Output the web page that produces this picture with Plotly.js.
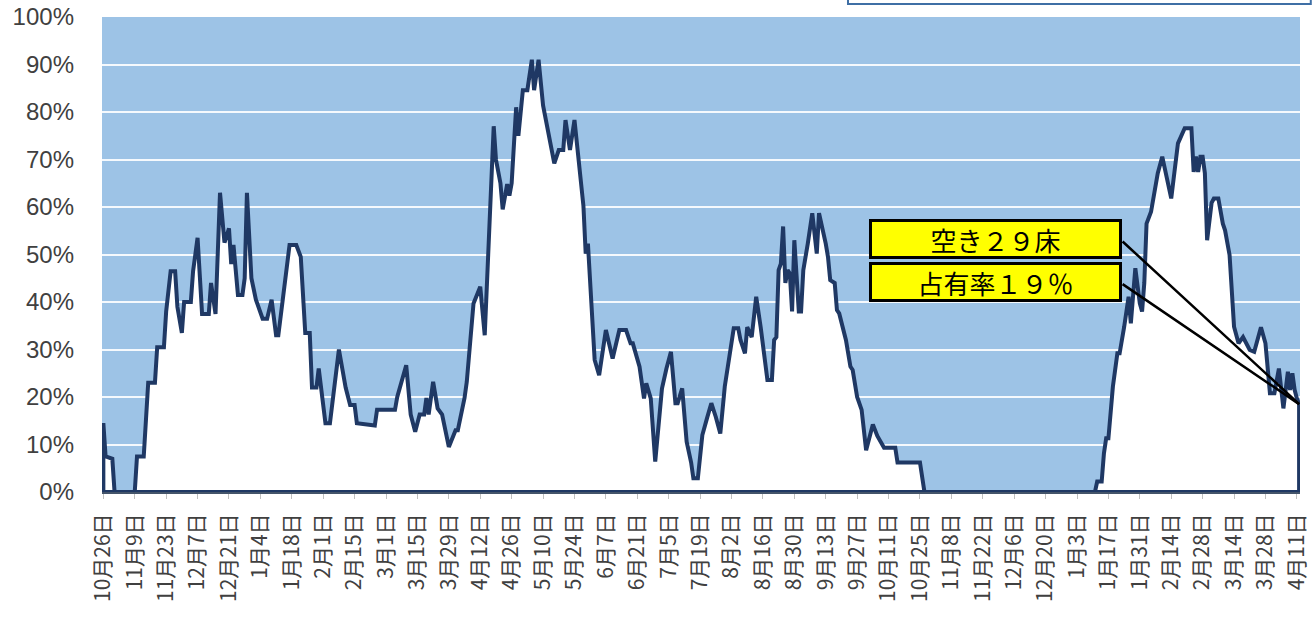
<!DOCTYPE html>
<html>
<head>
<meta charset="utf-8">
<script src="https://cdn.plot.ly/plotly-3.0.1.min.js"></script>
<style>html,body{margin:0;padding:0;background:#fff;}#chart{width:1313px;height:623px;}</style>
</head>
<body>
<div id="chart"></div>
<script>
// Day index counted from 10月26日 (first day of the series)
const days = [0,1,4,5,14,15,18,20,23,24,27,28,30,32,33,35,36,39,40,42,44,47,48,50,52,54,56,57,58,60,62,63,64,66,68,71,73,75,77,78,81,83,86,88,
90,92,93,95,96,99,101,105,108,110,112,113,121,122,130,131,135,137,139,141,143,144,145,147,149,151,154,157,158,161,162,165,168,170,174,
175,177,178,180,181,182,184,185,187,189,191,192,194,196,197,200,201,203,205,206,208,210,212,214,215,216,219,221,224,227,230,233,235,236,239,241,242,244,246,249,251,253,255,256,258,260,262,263,
265,267,269,271,273,275,277,279,281,283,284,286,287,289,291,293,296,298,299,300,301,302,303,304,305,306,307,308,310,311,312,314,316,318,319,322,323,324,326,327,328,331,333,334,336,338,340,343,345,348,353,354,
364,366,442,443,445,446,447,448,450,452,453,455,457,458,459,460,462,463,464,465,467,468,470,472,474,476,477,479,482,485,486,487,488,489,490,491,492,494,495,497,499,500,502,504,506,508,511,513,516,518,520,522,524,526,528,529,530,531,532,533];

// Bed occupancy rate (%)
const occupancy = [14.5,7.5,7,0,0,7.5,7.5,23,23,30.5,30.5,38,46.5,46.5,39,33.5,40,40,46.5,53.5,37.5,37.5,44,37.5,63,52.5,55.5,48,52,41.5,41.5,45,63,45,40.5,36.5,36.5,40.5,33,33,44.5,52,52,49.5,
33.5,33.5,22,22,26,14.5,14.5,30,22,18.3,18.3,14.5,14,17.3,17.3,20,26.7,16.3,12.7,16.3,16.3,19.8,16.3,23.2,17.6,16.3,9.5,13,13,19.8,23.2,39.7,43.2,33,77,
70,65,59.5,64.8,62.4,65,81,75,84.6,84.6,91,84.6,91,81.4,79,72,69.2,72,72,78.3,72,78.3,70,60.2,50.2,52.3,27.8,24.6,34.1,28.1,34.1,34.1,31.3,31.3,26.4,19.7,22.9,19.7,6.4,21.8,26,29.5,18.7,18.7,21.8,10.6,6.2,2.9,
2.9,12,15.4,18.7,15.8,12.3,22.2,28.5,34.5,34.5,32,29.2,34.7,32.6,41.1,34.7,23.6,23.6,32,32.6,46.7,48.1,55.9,44,46.7,46,38,53,38,38,46.7,52.3,58.7,50.2,58.7,52.3,49.5,44.6,44,38.3,37.6,32,26.4,25.7,20,17.3,8.8,14.2,11.8,9.3,9.3,6.2,
6.2,0,0,2.2,2.2,8.1,11.3,11.3,22.2,29.2,29.2,34.7,41.1,35.5,41.1,47.1,39.7,38,44,56.5,59,62,67.1,70.6,65.7,61.8,65.7,73.4,76.6,76.6,67.4,70.6,67.4,70.6,70.6,67.1,53,60.9,61.8,61.8,56.5,55.1,49.9,34.8,31.3,32.6,29.9,29.5,34.7,31.3,20.8,20.8,26,17.6,25.3,21.5,25,21.5,19.7,18.5];

// Tick labels every 14 days
const tickLabels = ["10月26日","11月9日","11月23日","12月7日","12月21日","1月4日","1月18日","2月1日","2月15日","3月1日","3月15日","3月29日","4月12日","4月26日","5月10日","5月24日","6月7日","6月21日","7月5日","7月19日","8月2日","8月16日","8月30日","9月13日","9月27日","10月11日","10月25日","11月8日","11月22日","12月6日","12月20日","1月3日","1月17日","1月31日","2月14日","2月28日","3月14日","3月28日","4月11日"];
const tickDays = tickLabels.map((_, i) => i * 14);

const vacantText = "空き２９床";
const rateText = "占有率１９％";

const first = days[0], last = days[days.length - 1];
const lastVal = occupancy[occupancy.length - 1];
// closed outline of the area (as an Excel area chart border)
const px = [first].concat(days, [last, first]);
const py = [0].concat(occupancy, [0, 0]);

const trace = {
  x: px, y: py, type: 'scatter', mode: 'lines',
  fill: 'toself', fillcolor: '#FFFFFF',
  line: {color: '#1F3864', width: 4},
  hoverinfo: 'skip'
};

const boxX = 0.7458;
const boxFont = {family: '"Noto Sans CJK JP", sans-serif', size: 26, color: '#000'};
const layout = {
  width: 1313, height: 623,
  margin: {l: 102, r: 13, t: 17, b: 131},
  paper_bgcolor: '#FFFFFF',
  plot_bgcolor: '#9DC3E6',
  showlegend: false,
  xaxis: {
    range: [-0.6, 533.4],
    tickmode: 'array', tickvals: tickDays, ticktext: tickLabels,
    tickangle: -90,
    ticks: 'outside', ticklen: 5, tickcolor: '#BFBFBF', tickwidth: 1,
    ticklabelstandoff: 6,
    showgrid: false, zeroline: false,
    showline: true, linecolor: '#44546A', linewidth: 2,
    tickfont: {family: '"Noto Sans CJK JP", sans-serif', size: 21, color: '#404040'},
    fixedrange: true
  },
  yaxis: {
    range: [0, 100], dtick: 10, ticksuffix: '%',
    showgrid: true, gridcolor: 'rgba(255,255,255,0.9)', gridwidth: 2,
    zeroline: false, showline: false, ticks: '',
    ticklabelstandoff: 27,
    tickfont: {family: '"Liberation Sans", Arial, sans-serif', size: 24, color: '#404040'},
    fixedrange: true
  },
  shapes: [{
    type: 'rect', xref: 'paper', yref: 'paper',
    x0: 0.6227, x1: 1.009, y0: 1.0274, y1: 1.08,
    line: {color: '#3F6FA5', width: 2}, fillcolor: '#FFFFFF', layer: 'above'
  }],
  annotations: [
    {xref: 'x', yref: 'y', x: last, y: lastVal, text: '', showarrow: true,
     arrowhead: 0, arrowwidth: 2.5, arrowcolor: '#000', ax: -178, ay: -164, standoff: 0},
    {xref: 'x', yref: 'y', x: last, y: lastVal, text: '', showarrow: true,
     arrowhead: 0, arrowwidth: 2.5, arrowcolor: '#000', ax: -178, ay: -121, standoff: 0},
    {xref: 'paper', yref: 'paper', x: boxX, y: 0.5326, xanchor: 'center', yanchor: 'middle',
     text: vacantText, showarrow: false, bgcolor: '#FFFF00', bordercolor: '#000000',
     borderwidth: 3, borderpad: 0, width: 247, height: 34, font: boxFont},
    {xref: 'paper', yref: 'paper', x: boxX, y: 0.4421, xanchor: 'center', yanchor: 'middle',
     text: rateText, showarrow: false, bgcolor: '#FFFF00', bordercolor: '#000000',
     borderwidth: 3, borderpad: 0, width: 247, height: 34, font: boxFont}
  ]
};

Plotly.newPlot('chart', [trace], layout, {staticPlot: true, displayModeBar: false});
</script>
</body>
</html>
